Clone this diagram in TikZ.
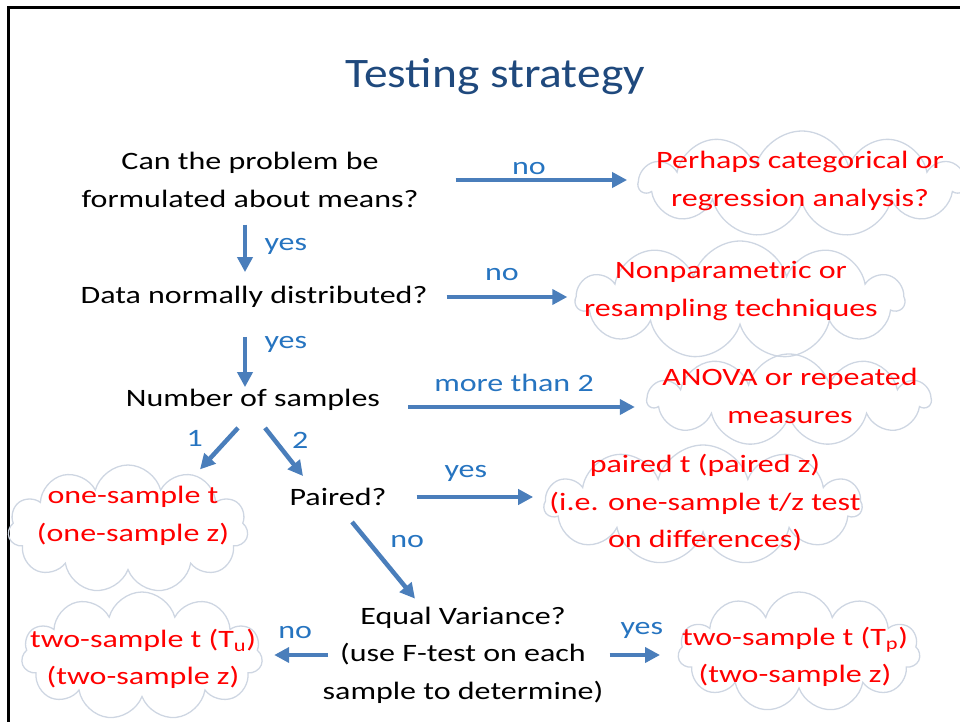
\documentclass[tikz,border=0pt]{standalone}
\usepackage{fontspec}
\setmainfont{Carlito}[FakeStretch=1.28]
\newfontfamily\titlefont{Carlito}[FakeStretch=1.13]
\usetikzlibrary{arrows.meta, positioning, shapes.symbols}

\definecolor{titleblue}{RGB}{31,73,125}
\definecolor{arrowblue}{RGB}{74,126,187}
\definecolor{labelblue}{RGB}{38,116,192}
\definecolor{cloudline}{RGB}{206,214,226}

\begin{document}
\begin{tikzpicture}[x=1pt, y=-1pt,
    quest/.style={align=center, text=black, inner sep=2pt,
                  font=\fontsize{25}{37.5}\selectfont},
    answer/.style={cloud, cloud puffs=11, cloud ignores aspect,
                   draw=cloudline, line width=1.3pt, inner sep=0pt},
    anstext/.style={align=center, text=red, inner sep=0pt,
                    font=\fontsize{25}{37.5}\selectfont},
    arr/.style={-{Triangle[length=15pt,width=15pt]}, line width=4.5pt,
                draw=arrowblue},
    lbl/.style={text=labelblue, font=\fontsize{25}{30}\selectfont},
  ]
  \useasboundingbox (0,0) rectangle (960,722);
  \draw[line width=3pt] (8,722) -- (8,8) -- (960,8);

  \node[text=titleblue, font=\titlefont\fontsize{42}{50}\selectfont] (title)
    at (495,77) {Testing strategy};

  % questions down the middle
  \node[quest] (means)  at (250,180) {Can the problem be\\formulated about means?};
  \node[quest] (normal) at (254,297) {Data normally distributed?};
  \node[quest] (nsamp)  at (253,400) {Number of samples};
  \node[quest] (paired) at (338,497) {Paired?};
  \node[quest] (eqvar)  at (463,655) {Equal Variance?\\(use F-test on each\\sample to determine)};

  % outcome clouds, text laid on top
  \node[answer, minimum width=325, minimum height=106] (catreg)  at (802,184) {};
  \node[answer, minimum width=328, minimum height=118] (nonpar)  at (740,300) {};
  \node[answer, minimum width=282, minimum height=92]  (anova)   at (789,400) {};
  \node[answer, minimum width=240, minimum height=128] (onesamp) at (128,529) {};
  \node[answer, minimum width=317, minimum height=120] (pairedt) at (703,505) {};
  \node[answer, minimum width=241, minimum height=128] (twou)    at (142,656) {};
  \node[answer, minimum width=242, minimum height=120] (twop)    at (799,652) {};

  \node[anstext] (catregtxt)  at (800,181) {Perhaps categorical or\\regression analysis?};
  \node[anstext] (nonpartxt)  at (731,291) {Nonparametric or\\resampling techniques};
  \node[anstext] (anovatxt)   at (790,396) {ANOVA or repeated\\measures};
  \node[anstext] (onesamptxt) at (133,516) {one-sample t\\(one-sample z)};
  \node[anstext] (pairedttxt) at (705,503) {paired t (paired z)\\(i.e. one-sample t/z test\\on differences)};
  \node[anstext] (twoutxt)    at (143,659) {two-sample t (T\textsubscript{u})\\(two-sample z)};
  \node[anstext] (twoptxt)    at (795,657) {two-sample t (T\textsubscript{p})\\(two-sample z)};

  % yes / no branches
  \draw[arr, shorten <=35pt, shorten >=10pt] (means.east) -- (means.east -| catreg.west)
    node[midway, above, lbl] {no};
  \draw[arr, shorten <=15pt, shorten >=12pt] ([xshift=-5pt]means.south)
    -- ([xshift=-5pt]means.south |- normal.north) node[midway, right=14pt, lbl] {yes};
  \draw[arr, shorten <=17pt, shorten >=7pt] (normal.east) -- (normal.east -| nonpar.west)
    node[midway, above=11pt, lbl] {no};
  \draw[arr, shorten <=27pt] ([xshift=-9pt]normal.south)
    -- ([xshift=-9pt]normal.south |- nsamp.north) node[pos=0.45, right=14pt, lbl] {yes};
  \draw[arr, shorten <=26pt, shorten >=11pt] ([yshift=-7pt]nsamp.east)
    -- ([yshift=-7pt]nsamp.east -| anova.west) node[midway, above=10pt, lbl] {more than 2};
  \draw[arr] ([xshift=-15pt, yshift=-15pt]nsamp.south) -- ([xshift=72pt, yshift=-5pt]onesamp.north)
    node[pos=0.25, left=20pt, lbl] {1};
  \draw[arr] ([xshift=12pt, yshift=-15pt]nsamp.south) -- ([xshift=-35pt, yshift=10pt]paired.north)
    node[pos=0.25, right=12pt, lbl] {2};
  \draw[arr, shorten <=28pt, shorten >=10pt] (paired.east) -- (paired.east -| pairedt.west)
    node[midway, above=10pt, lbl] {yes};
  \draw[arr] ([xshift=14pt, yshift=-14pt]paired.south) -- ([xshift=-48pt, yshift=6pt]eqvar.north)
    node[pos=0.25, right=17pt, lbl] {no};
  \draw[arr, shorten >=12pt] ([xshift=-135pt]eqvar.center) -- (eqvar.center -| twou.east)
    node[midway, above=11pt, lbl] {no};
  \draw[arr, shorten <=4pt, shorten >=18pt] (eqvar.east) -- (eqvar.east -| twop.west)
    node[midway, above=11pt, lbl] {yes};
\end{tikzpicture}
\end{document}
